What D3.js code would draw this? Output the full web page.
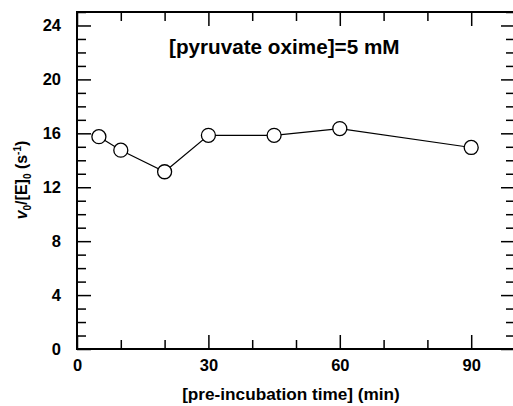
<!DOCTYPE html>
<html>
<head>
<meta charset="utf-8">
<script src="https://cdn.jsdelivr.net/npm/d3@7/dist/d3.min.js"></script>
<style>
  body { margin: 0; background: #fff; }
  text { font-family: "Liberation Sans", Arial, Helvetica, sans-serif; font-weight: bold; fill: #000; }
</style>
</head>
<body>
<svg id="chart" width="513" height="406"></svg>
<script>
// pre-incubation time (min) vs v0/[E]0 (s^-1)
var times = [5, 10, 20, 30, 45, 60, 90];
var rates = [15.75, 14.75, 13.15, 15.85, 15.85, 16.35, 14.95];

var xMajor = [0, 30, 60, 90];
var xMinor = [10, 20, 40, 50, 70, 80, 100];
var yMajor = [0, 4, 8, 12, 16, 20, 24];
var yMinor = [1, 2, 3, 5, 6, 7, 9, 10, 11, 13, 14, 15, 17, 18, 19, 21, 22, 23, 25];

var note = "[pyruvate oxime]=5 mM";
var xTitle = "[pre-incubation time] (min)";

var mLeft = 77, mRight = 515, mTop = 12, mBottom = 349;

var svg = d3.select("#chart");

var x = d3.scaleLinear().domain([0, 100]).range([mLeft, mRight]);
var y = d3.scaleLinear().domain([0, 25]).range([mBottom, mTop]);

var major = 14, minor = 9;

function styleAxis(g) {
  g.select(".domain").remove();
  g.selectAll(".tick line").attr("stroke", "#000").attr("stroke-width", 1.5);
  g.selectAll(".tick text").style("font-size", "16.5px").attr("font-family", null);
}

// bottom
svg.append("g").attr("transform", "translate(0," + mBottom + ")")
  .call(d3.axisBottom(x).tickValues(xMajor).tickSize(-major).tickPadding(10).tickFormat(d3.format("d")))
  .call(styleAxis);
svg.append("g").attr("transform", "translate(0," + mBottom + ")")
  .call(d3.axisBottom(x).tickValues(xMinor).tickSize(-minor).tickFormat(""))
  .call(styleAxis);
// top
svg.append("g").attr("transform", "translate(0," + mTop + ")")
  .call(d3.axisTop(x).tickValues(xMajor).tickSize(-major).tickFormat(""))
  .call(styleAxis);
svg.append("g").attr("transform", "translate(0," + mTop + ")")
  .call(d3.axisTop(x).tickValues(xMinor).tickSize(-minor).tickFormat(""))
  .call(styleAxis);
// left
svg.append("g").attr("transform", "translate(" + mLeft + ",0)")
  .call(d3.axisLeft(y).tickValues(yMajor).tickSize(-major).tickPadding(16).tickFormat(d3.format("d")))
  .call(styleAxis);
svg.append("g").attr("transform", "translate(" + mLeft + ",0)")
  .call(d3.axisLeft(y).tickValues(yMinor).tickSize(-minor).tickFormat(""))
  .call(styleAxis);
// right
svg.append("g").attr("transform", "translate(" + mRight + ",0)")
  .call(d3.axisRight(y).tickValues(yMajor).tickSize(-major).tickFormat(""))
  .call(styleAxis);
svg.append("g").attr("transform", "translate(" + mRight + ",0)")
  .call(d3.axisRight(y).tickValues(yMinor).tickSize(-minor).tickFormat(""))
  .call(styleAxis);

// frame
svg.append("rect")
  .attr("x", mLeft).attr("y", mTop)
  .attr("width", mRight - mLeft).attr("height", mBottom - mTop)
  .attr("fill", "none").attr("stroke", "#000").attr("stroke-width", 2);

var pts = times.map(function (t, i) { return [t, rates[i]]; });

svg.append("path")
  .datum(pts)
  .attr("fill", "none").attr("stroke", "#000").attr("stroke-width", 1.2)
  .attr("d", d3.line().x(function (d) { return x(d[0]); }).y(function (d) { return y(d[1]); }));

svg.selectAll("circle.pt")
  .data(pts)
  .enter().append("circle")
  .attr("class", "pt")
  .attr("cx", function (d) { return x(d[0]); })
  .attr("cy", function (d) { return y(d[1]); })
  .attr("r", 7)
  .attr("fill", "#fff").attr("stroke", "#000").attr("stroke-width", 1.3);

// annotation
svg.append("text")
  .attr("x", 169).attr("y", 54)
  .style("font-size", "20.7px")
  .text(note);

// x title
svg.append("text")
  .attr("x", 291).attr("y", 400)
  .attr("text-anchor", "middle")
  .style("font-size", "17.2px")
  .text(xTitle);

// y title
var yt = svg.append("text")
  .attr("transform", "translate(27,180) rotate(-90)")
  .attr("text-anchor", "middle")
  .style("font-size", "16px");
yt.append("tspan").style("font-style", "italic").text("v");
yt.append("tspan").attr("dy", 4).style("font-size", "10px").text("0");
yt.append("tspan").attr("dy", -4).text("/[E]");
yt.append("tspan").attr("dy", 4).style("font-size", "10px").text("0");
yt.append("tspan").attr("dy", -4).text(" (s");
yt.append("tspan").attr("dy", -6).style("font-size", "10px").text("-1");
yt.append("tspan").attr("dy", 6).text(")");
</script>
</body>
</html>
